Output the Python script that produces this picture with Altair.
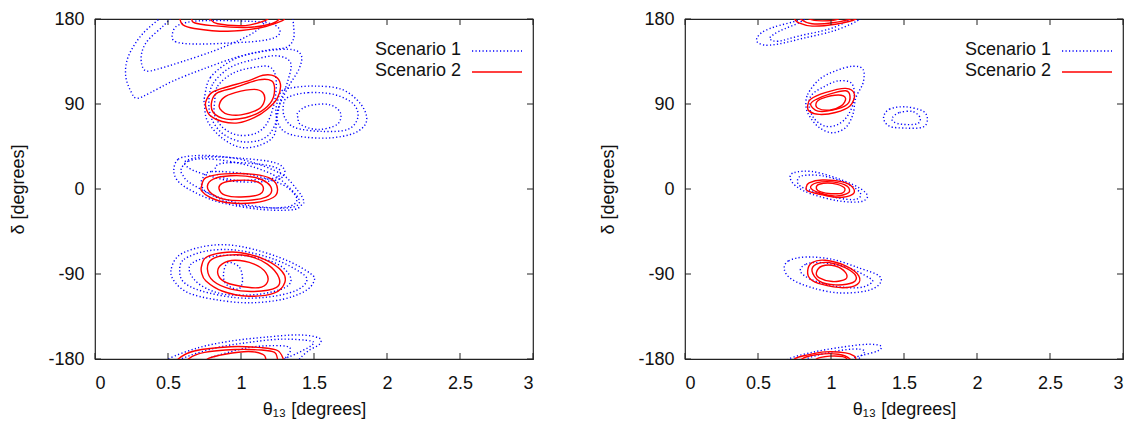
import altair as alt
import pandas as pd

# ---------------- axis ticks / labels ----------------
X_TICKS = [0, 0.5, 1, 1.5, 2, 2.5, 3]
Y_TICKS = [-180, -90, 0, 90, 180]
SCENARIOS = ["Scenario 1", "Scenario 2"]
X_TITLE = "θ₁₃ [degrees]"
Y_TITLE = "δ [degrees]"

# ---------------- LEFT PANEL contours (theta13, delta) ----------------
# Scenario 1 (blue dotted)
L_B_TOP_OUTER = [(0.49, 186), (0.33, 165), (0.23, 141), (0.21, 120), (0.25, 102), (0.29, 96), (0.38, 102),
                 (0.53, 114), (0.74, 127), (0.98, 140), (1.18, 147), (1.31, 150), (1.36, 159), (1.36, 173), (1.35, 186)]
L_B_TOP_INNER = [(0.55, 186), (0.47, 173), (0.36, 157), (0.32, 144), (0.32, 132), (0.35, 125), (0.43, 127),
                 (0.60, 135), (0.81, 146), (0.98, 157), (1.10, 167), (1.17, 178), (1.20, 186)]
L_B_TOP_LOOP = [(0.53, 164), (0.55, 156), (0.68, 153.5), (0.91, 154.5), (1.14, 157), (1.25, 162), (1.26, 170),
                (1.18, 176), (0.98, 178), (0.71, 178), (0.57, 173.5)]
L_B_90_OUTER = [(0.75, 97), (0.79, 118), (0.93, 135.5), (1.09, 144), (1.32, 148), (1.41, 142.5), (1.40, 128),
                (1.32, 107), (1.25, 83), (1.23, 58), (1.14, 47), (1.00, 44), (0.87, 54), (0.77, 72), (0.75, 90)]
L_B_90_MID = [(0.78, 93), (0.81, 112), (0.93, 129), (1.10, 137.5), (1.25, 141), (1.34, 133.5), (1.32, 114),
              (1.27, 93), (1.23, 67), (1.15, 53), (1.01, 50), (0.88, 58), (0.80, 74)]
L_B_90_INNER = [(0.82, 93), (0.84, 109), (0.95, 123), (1.10, 129), (1.20, 129), (1.24, 116.5), (1.23, 93),
                (1.18, 70), (1.10, 59), (0.98, 57), (0.88, 64.5), (0.82, 78)]
L_B_R_OUTER = [(1.28, 104), (1.34, 107), (1.50, 109), (1.69, 105.5), (1.82, 90), (1.86, 72), (1.78, 59.5),
               (1.60, 54), (1.39, 56), (1.28, 63), (1.24, 79), (1.25, 93)]
L_B_R_MID = [(1.32, 97), (1.46, 102), (1.64, 100), (1.77, 90), (1.80, 75.5), (1.73, 63), (1.55, 61),
             (1.37, 65), (1.30, 75.5), (1.29, 88)]
L_B_R_INNER = [(1.39, 81), (1.46, 88), (1.60, 89.5), (1.68, 81), (1.66, 68.5), (1.53, 63), (1.41, 68), (1.39, 75.5)]
L_B_0_OUTER = [(0.54, 21), (0.57, 31.5), (0.66, 35), (0.82, 35), (1.05, 29.5), (1.28, 15.5), (1.39, -2),
               (1.43, -12.5), (1.42, -16), (1.37, -21.5), (1.23, -22.5), (1.05, -20), (0.82, -12.5), (0.64, 0), (0.56, 10)]
L_B_0_MID = [(0.59, 21), (0.64, 29.5), (0.77, 32), (1.01, 26.5), (1.22, 15), (1.34, 0), (1.40, -12.5),
             (1.36, -19), (1.22, -20), (1.01, -16), (0.81, -6.5), (0.65, 6.5), (0.60, 15)]
L_B_0_INNER = [(0.74, 12), (0.80, 18.5), (1.05, 15.5), (1.28, 5), (1.38, -9), (1.34, -18), (1.18, -20),
               (0.96, -16), (0.77, -4), (0.73, 5)]
L_B_0_BAND = [(0.62, 29.5), (0.75, 34), (1.00, 32.5), (1.23, 28), (1.30, 19), (1.26, 10.5), (1.12, 7.5),
              (0.93, 8.5), (0.75, 15.5), (0.64, 22.5)]
L_B_0_BAND2 = [(0.83, 24.5), (0.93, 28), (1.14, 26), (1.26, 21), (1.25, 12.5), (1.14, 10.5), (0.98, 9), (0.85, 14)]
L_B_M90_OUTER = [(0.52, -87), (0.57, -71), (0.71, -62), (0.89, -59), (1.09, -64), (1.32, -76), (1.48, -90),
                 (1.50, -97.5), (1.44, -108), (1.28, -117), (1.05, -120.5), (0.82, -117), (0.64, -110), (0.55, -99)]
L_B_M90_MID = [(0.58, -87), (0.61, -74.5), (0.77, -65.5), (0.98, -65), (1.23, -74.5), (1.41, -88.5), (1.45, -97.5),
               (1.37, -108), (1.18, -114.5), (0.96, -115), (0.73, -108), (0.61, -99)]
L_B_M90_INNER = [(0.65, -88.5), (0.67, -78), (0.82, -71), (1.05, -71), (1.25, -79.5), (1.34, -94), (1.30, -104.5),
                 (1.12, -111.5), (0.89, -111.5), (0.73, -102.5)]
L_B_M90_CORE = [(0.91, -78), (0.99, -83), (1.01, -97.5), (0.98, -106), (0.90, -101), (0.88, -90)]
L_B_BOT_OUTER = [(0.46, -188), (0.50, -180), (0.71, -168), (0.93, -161), (1.16, -157), (1.39, -154.5), (1.53, -157.5),
                 (1.54, -164), (1.46, -171.5), (1.40, -180), (1.36, -188)]
L_B_BOT_MID = [(0.56, -188), (0.59, -180), (0.82, -168.5), (1.05, -162.5), (1.28, -159), (1.48, -161), (1.48, -166),
               (1.37, -175), (1.30, -180), (1.27, -188)]
L_B_BOT_INNER = [(0.74, -188), (0.77, -180), (1.05, -168), (1.28, -166), (1.34, -170), (1.30, -180), (1.28, -188)]

# Scenario 2 (red solid)
L_R_TOP_OUTER = [(0.57, 186), (0.58, 181), (0.60, 174), (0.68, 170), (0.91, 167), (1.14, 171), (1.28, 178), (1.30, 181), (1.32, 186)]
L_R_TOP_MID = [(0.65, 186), (0.66, 181), (0.68, 176), (0.80, 173), (1.03, 171), (1.21, 175), (1.27, 181), (1.29, 186)]
L_R_TOP_INNER = [(0.76, 186), (0.78, 181), (0.84, 175), (1.03, 173), (1.16, 178), (1.19, 181), (1.20, 186)]
L_R_90_OUTER = [(0.76, 93), (0.80, 102), (0.89, 107.5), (1.05, 114.5), (1.15, 120.5), (1.23, 119.5), (1.27, 111),
                (1.25, 96.5), (1.18, 84.5), (1.09, 75.5), (0.98, 70), (0.87, 71.5), (0.79, 77.5), (0.76, 86)]
L_R_90_MID = [(0.80, 93), (0.84, 102), (0.96, 107.5), (1.12, 115.5), (1.21, 114.5), (1.23, 105.5), (1.21, 93),
              (1.14, 82.5), (1.03, 75.5), (0.90, 74), (0.81, 81)]
L_R_90_INNER = [(0.85, 88), (0.88, 96.5), (0.96, 102), (1.09, 105.5), (1.15, 102), (1.16, 93), (1.12, 84.5),
                (1.00, 78.5), (0.91, 79), (0.87, 82.5)]
L_R_0_OUTER = [(0.73, 3), (0.76, 12), (0.89, 16), (1.09, 15.5), (1.21, 10.5), (1.25, 0), (1.22, -9),
               (1.09, -14.5), (0.91, -14.5), (0.79, -9), (0.73, -2)]
L_R_0_MID = [(0.77, 3), (0.81, 10.5), (0.93, 14), (1.09, 12.5), (1.18, 6.5), (1.21, -2), (1.17, -8.5),
             (1.05, -12), (0.89, -11), (0.80, -5)]
L_R_0_INNER = [(0.85, 0), (0.87, 6), (0.96, 9), (1.09, 8.5), (1.15, 3), (1.13, -5.5), (1.00, -8.5), (0.89, -6.5)]
L_R_M90_OUTER = [(0.73, -81.5), (0.76, -72.5), (0.87, -67.5), (1.00, -67.5), (1.16, -74.5), (1.28, -87), (1.30, -99),
                 (1.23, -110), (1.05, -113.5), (0.87, -108), (0.76, -97.5), (0.73, -88.5)]
L_R_M90_MID = [(0.77, -85), (0.80, -74.5), (0.91, -70), (1.05, -71), (1.18, -79.5), (1.26, -94), (1.24, -104.5),
               (1.09, -108.5), (0.93, -106), (0.81, -97.5)]
L_R_M90_INNER = [(0.84, -88.5), (0.87, -79.5), (0.96, -75.5), (1.09, -79.5), (1.17, -88.5), (1.18, -99),
                 (1.12, -104.5), (0.98, -102.5), (0.88, -97.5)]
L_R_BOT_OUTER = [(0.55, -188), (0.57, -180), (0.68, -171.5), (0.93, -167), (1.14, -168), (1.25, -171), (1.29, -180), (1.30, -188)]
L_R_BOT_MID = [(0.63, -188), (0.64, -180), (0.75, -173), (0.96, -170), (1.14, -170.5), (1.23, -173), (1.25, -180), (1.26, -188)]
L_R_BOT_INNER = [(0.76, -188), (0.77, -180), (0.89, -175), (1.05, -172), (1.15, -175), (1.17, -180), (1.18, -188)]

# ---------------- RIGHT PANEL contours ----------------
R_B_TOP_OUTER = [(0.82, 186), (0.78, 179), (0.61, 171.5), (0.52, 165), (0.49, 157), (0.54, 152.5), (0.64, 153.5),
                 (0.82, 160), (1.02, 167.5), (1.18, 178), (1.23, 186)]
R_B_TOP_INNER = [(0.88, 186), (0.78, 176), (0.68, 169.5), (0.61, 164), (0.58, 159), (0.64, 156.5), (0.78, 162),
                 (0.99, 169.5), (1.11, 178), (1.15, 186)]
R_B_90_OUTER = [(0.83, 86), (0.84, 100), (0.92, 116), (1.03, 125), (1.15, 130), (1.22, 126.5), (1.22, 112.5),
                (1.17, 96.5), (1.15, 79), (1.10, 65), (1.01, 59.5), (0.92, 65), (0.86, 75.5)]
R_B_90_INNER = [(0.85, 89.5), (0.87, 100), (0.96, 109), (1.05, 114.5), (1.14, 112), (1.16, 96.5), (1.12, 79),
                (1.05, 68.5), (0.96, 66.5), (0.88, 75.5)]
R_B_R_OUTER = [(1.36, 75.5), (1.40, 84.5), (1.51, 87), (1.63, 82.5), (1.66, 74), (1.63, 65.5), (1.51, 64.5), (1.40, 66.5)]
R_B_R_INNER = [(1.42, 75.5), (1.47, 81), (1.56, 82), (1.61, 75.5), (1.59, 69), (1.49, 68.5), (1.43, 71)]
R_B_0_OUTER = [(0.72, 12), (0.75, 17.5), (0.87, 18.5), (1.03, 12), (1.19, 1.5), (1.25, -7.5), (1.20, -13.5),
               (1.05, -12.5), (0.87, -5.5), (0.76, 3)]
R_B_0_INNER = [(0.77, 8.5), (0.80, 14), (0.94, 14), (1.10, 6.5), (1.20, -4), (1.17, -11), (1.03, -9), (0.87, -2), (0.79, 3)]
R_B_M90_OUTER = [(0.68, -85), (0.71, -76), (0.83, -72), (1.01, -74.5), (1.19, -83.5), (1.33, -92), (1.33, -101),
                 (1.24, -108), (1.05, -110), (0.87, -104.5), (0.73, -95.5)]
R_B_M90_INNER = [(0.79, -87), (0.83, -79.5), (0.94, -78), (1.12, -83.5), (1.26, -94), (1.28, -99), (1.19, -104.5),
                 (1.01, -102.5), (0.86, -95.5)]
R_B_BOT_OUTER = [(0.69, -188), (0.71, -180), (0.87, -173), (1.05, -168), (1.24, -164.5), (1.34, -166), (1.32, -171.5),
                 (1.19, -177), (1.15, -180), (1.12, -188)]
R_B_BOT_INNER = [(0.81, -188), (0.83, -180), (0.99, -173), (1.15, -169.5), (1.23, -171.5), (1.19, -180), (1.17, -188)]

R_R_TOP_OUTER = [(0.73, 186), (0.75, 180), (0.78, 176), (0.87, 172.5), (1.03, 174.5), (1.17, 180), (1.18, 186)]
R_R_TOP_MID = [(0.78, 186), (0.79, 180), (0.87, 175), (1.01, 176), (1.15, 181), (1.16, 186)]
R_R_TOP_INNER = [(0.84, 186), (0.85, 180), (0.94, 178), (1.05, 180), (1.06, 186)]
R_R_90_OUTER = [(0.84, 88), (0.86, 95), (0.96, 102), (1.10, 106.5), (1.16, 100.5), (1.13, 88), (1.03, 81), (0.92, 79), (0.85, 82.5)]
R_R_90_MID = [(0.86, 89.5), (0.90, 95), (0.99, 100.5), (1.10, 104), (1.13, 98.5), (1.11, 89.5), (1.01, 83.5), (0.91, 82.5)]
R_R_90_INNER = [(0.90, 91.5), (0.94, 96), (1.05, 99.5), (1.10, 96), (1.07, 88), (0.99, 83.5), (0.91, 85.5)]
R_R_0_OUTER = [(0.83, 1.5), (0.85, 6.5), (0.94, 9.5), (1.08, 7.5), (1.15, 1.5), (1.15, -5.5), (1.05, -9), (0.92, -5.5), (0.84, -2)]
R_R_0_MID = [(0.86, 1.5), (0.90, 6.5), (1.01, 7.5), (1.11, 3), (1.12, -4), (1.03, -7.5), (0.92, -4)]
R_R_0_INNER = [(0.90, 0.5), (0.92, 5), (1.01, 6), (1.09, 1.5), (1.08, -4), (1.00, -5), (0.93, -3)]
R_R_M90_OUTER = [(0.84, -87), (0.87, -78), (0.96, -75.5), (1.10, -81.5), (1.19, -92), (1.18, -101), (1.08, -104.5),
                 (0.94, -101), (0.86, -95.5)]
R_R_M90_MID = [(0.87, -87), (0.90, -79.5), (0.99, -78), (1.10, -83.5), (1.17, -92), (1.15, -99), (1.03, -101.5), (0.92, -97.5)]
R_R_M90_INNER = [(0.90, -88.5), (0.94, -81.5), (1.03, -81.5), (1.10, -88.5), (1.10, -95.5), (1.01, -98), (0.92, -94)]
R_R_BOT_OUTER = [(0.74, -188), (0.75, -180), (0.83, -176), (0.96, -172.5), (1.10, -173.5), (1.16, -177), (1.17, -180), (1.18, -188)]
R_R_BOT_MID = [(0.79, -188), (0.80, -180), (0.92, -175), (1.05, -175), (1.13, -180), (1.14, -188)]
R_R_BOT_INNER = [(0.89, -188), (0.90, -180), (0.99, -177), (1.08, -177.5), (1.11, -180), (1.12, -188)]

# (panel, scenario, closed?, name, points)
CONTOURS = [
    ("L", 1, False, "b_top_o", L_B_TOP_OUTER), ("L", 1, False, "b_top_i", L_B_TOP_INNER),
    ("L", 1, True, "b_top_l", L_B_TOP_LOOP), ("L", 1, True, "b_90_o", L_B_90_OUTER),
    ("L", 1, True, "b_90_m", L_B_90_MID), ("L", 1, True, "b_90_i", L_B_90_INNER),
    ("L", 1, True, "b_r_o", L_B_R_OUTER), ("L", 1, True, "b_r_m", L_B_R_MID), ("L", 1, True, "b_r_i", L_B_R_INNER),
    ("L", 1, True, "b_0_o", L_B_0_OUTER), ("L", 1, True, "b_0_m", L_B_0_MID), ("L", 1, True, "b_0_i", L_B_0_INNER),
    ("L", 1, True, "b_0_b", L_B_0_BAND), ("L", 1, True, "b_0_b2", L_B_0_BAND2),
    ("L", 1, True, "b_m90_o", L_B_M90_OUTER), ("L", 1, True, "b_m90_m", L_B_M90_MID),
    ("L", 1, True, "b_m90_i", L_B_M90_INNER), ("L", 1, True, "b_m90_c", L_B_M90_CORE),
    ("L", 1, False, "b_bot_o", L_B_BOT_OUTER), ("L", 1, False, "b_bot_m", L_B_BOT_MID),
    ("L", 1, False, "b_bot_i", L_B_BOT_INNER),
    ("L", 2, False, "r_top_o", L_R_TOP_OUTER), ("L", 2, False, "r_top_m", L_R_TOP_MID),
    ("L", 2, False, "r_top_i", L_R_TOP_INNER),
    ("L", 2, True, "r_90_o", L_R_90_OUTER), ("L", 2, True, "r_90_m", L_R_90_MID), ("L", 2, True, "r_90_i", L_R_90_INNER),
    ("L", 2, True, "r_0_o", L_R_0_OUTER), ("L", 2, True, "r_0_m", L_R_0_MID), ("L", 2, True, "r_0_i", L_R_0_INNER),
    ("L", 2, True, "r_m90_o", L_R_M90_OUTER), ("L", 2, True, "r_m90_m", L_R_M90_MID),
    ("L", 2, True, "r_m90_i", L_R_M90_INNER),
    ("L", 2, False, "r_bot_o", L_R_BOT_OUTER), ("L", 2, False, "r_bot_m", L_R_BOT_MID),
    ("L", 2, False, "r_bot_i", L_R_BOT_INNER),
    ("R", 1, False, "b_top_o", R_B_TOP_OUTER), ("R", 1, False, "b_top_i", R_B_TOP_INNER),
    ("R", 1, True, "b_90_o", R_B_90_OUTER), ("R", 1, True, "b_90_i", R_B_90_INNER),
    ("R", 1, True, "b_r_o", R_B_R_OUTER), ("R", 1, True, "b_r_i", R_B_R_INNER),
    ("R", 1, True, "b_0_o", R_B_0_OUTER), ("R", 1, True, "b_0_i", R_B_0_INNER),
    ("R", 1, True, "b_m90_o", R_B_M90_OUTER), ("R", 1, True, "b_m90_i", R_B_M90_INNER),
    ("R", 1, False, "b_bot_o", R_B_BOT_OUTER), ("R", 1, False, "b_bot_i", R_B_BOT_INNER),
    ("R", 2, False, "r_top_o", R_R_TOP_OUTER), ("R", 2, False, "r_top_m", R_R_TOP_MID),
    ("R", 2, False, "r_top_i", R_R_TOP_INNER),
    ("R", 2, True, "r_90_o", R_R_90_OUTER), ("R", 2, True, "r_90_m", R_R_90_MID), ("R", 2, True, "r_90_i", R_R_90_INNER),
    ("R", 2, True, "r_0_o", R_R_0_OUTER), ("R", 2, True, "r_0_m", R_R_0_MID), ("R", 2, True, "r_0_i", R_R_0_INNER),
    ("R", 2, True, "r_m90_o", R_R_M90_OUTER), ("R", 2, True, "r_m90_m", R_R_M90_MID),
    ("R", 2, True, "r_m90_i", R_R_M90_INNER),
    ("R", 2, False, "r_bot_o", R_R_BOT_OUTER), ("R", 2, False, "r_bot_m", R_R_BOT_MID),
    ("R", 2, False, "r_bot_i", R_R_BOT_INNER),
]

rows = []
for panel, scen, closed, name, pts in CONTOURS:
    for i, (x, y) in enumerate(pts):
        rows.append({"panel": panel, "scen": scen, "closed": closed, "cid": name, "i": i, "x": x, "y": y})
df = pd.DataFrame(rows)

W, H = 438, 340
FONT = "Liberation Sans"
FS = 18
BLUE = "#0000ff"
RED = "#ff0000"
DOT = [1.2, 2.3]

xs = alt.Scale(domain=[0, 3], nice=False, zero=False)
ys = alt.Scale(domain=[-180, 180], nice=False, zero=False)
x_axis = alt.Axis(values=X_TICKS, format="~g", title=X_TITLE, labelPadding=15, titlePadding=8)
y_axis = alt.Axis(values=Y_TICKS, labelExpr="toString(datum.value)", title=Y_TITLE,
                  labelPadding=11, titlePadding=20)


def panel_chart(p):
    d = df[df.panel == p]
    layers = []
    for scen, color, dash, sw in [(1, BLUE, DOT, 1.4), (2, RED, None, 1.4)]:
        for closed, interp in [(True, "cardinal-closed"), (False, "cardinal")]:
            sub = d[(d.scen == scen) & (d.closed == closed)]
            if len(sub) == 0:
                continue
            mk = dict(interpolate=interp, color=color, strokeWidth=sw, clip=True)
            if dash:
                mk["strokeDash"] = dash
            layers.append(
                alt.Chart(sub).mark_line(**mk).encode(
                    x=alt.X("x:Q", scale=xs, axis=x_axis),
                    y=alt.Y("y:Q", scale=ys, axis=y_axis),
                    detail="cid:N",
                    order="i:Q",
                )
            )
    xt = pd.DataFrame({"t": X_TICKS})
    yt = pd.DataFrame({"t": Y_TICKS})
    tick_col = "#222"
    layers.append(alt.Chart(xt).mark_rule(color=tick_col).encode(
        x=alt.X("t:Q", scale=xs, axis=x_axis), y=alt.value(H), y2=alt.value(H - 6)))
    layers.append(alt.Chart(xt).mark_rule(color=tick_col).encode(
        x=alt.X("t:Q", scale=xs, axis=x_axis), y=alt.value(0), y2=alt.value(6)))
    layers.append(alt.Chart(yt).mark_rule(color=tick_col).encode(
        y=alt.Y("t:Q", scale=ys, axis=y_axis), x=alt.value(0), x2=alt.value(6)))
    layers.append(alt.Chart(yt).mark_rule(color=tick_col).encode(
        y=alt.Y("t:Q", scale=ys, axis=y_axis), x=alt.value(W), x2=alt.value(W - 6)))
    # legend (label then line sample)
    for k, (lab, color, dash) in enumerate([(SCENARIOS[0], BLUE, DOT), (SCENARIOS[1], RED, None)]):
        ly = 31 + 21 * k
        ld = pd.DataFrame({"label": [lab]})
        layers.append(alt.Chart(ld).mark_text(align="right", baseline="middle", font=FONT, fontSize=FS,
                                              color="#111").encode(
            text="label:N", x=alt.value(366), y=alt.value(ly)))
        rk = dict(color=color, strokeWidth=1.5 if dash else 1.4)
        if dash:
            rk["strokeDash"] = dash
        layers.append(alt.Chart(ld).mark_rule(**rk).encode(
            x=alt.value(377), x2=alt.value(427), y=alt.value(ly + 1)))
    return alt.layer(*layers).properties(width=W, height=H)


chart = alt.hconcat(panel_chart("L"), panel_chart("R"), spacing=64).properties(
    padding={"left": 1, "top": 1, "right": 2, "bottom": 2}
).configure_view(stroke="#222", strokeWidth=1.2).configure_axis(
    labelFont=FONT, titleFont=FONT, labelFontSize=FS, titleFontSize=FS, titleFontWeight="normal",
    labelColor="#111", titleColor="#111", domain=False, ticks=False, tickSize=0, grid=False,
)

chart.save("out.html", embed_options={"renderer": "svg", "actions": False})
